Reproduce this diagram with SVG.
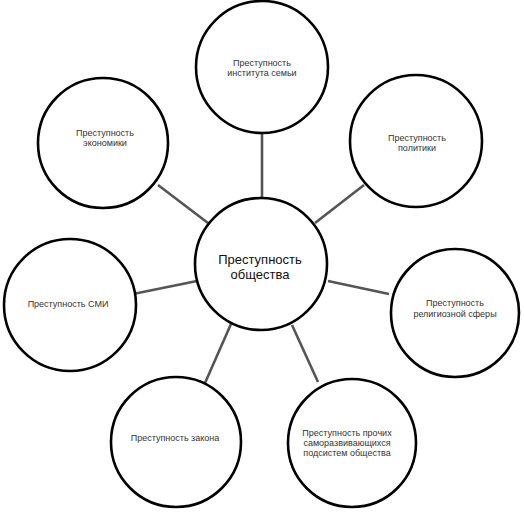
<svg xmlns="http://www.w3.org/2000/svg" width="524" height="512" viewBox="0 0 524 512">
<style>
.n circle{fill:#fff;stroke:#000;stroke-width:2.6}
.n text{font-family:"Liberation Sans",Arial,sans-serif;font-size:9px;fill:#333;text-anchor:middle}
.n text.big{font-size:13px;fill:#111}
#connectors line{stroke:#555;stroke-width:2.6}
</style>
<rect width="524" height="512" fill="#fff"/>
<g id="connectors">
<line x1="262" y1="133" x2="262" y2="198"/>
<line x1="158" y1="185" x2="208" y2="223"/>
<line x1="315" y1="223" x2="364" y2="185"/>
<line x1="133" y1="294" x2="197" y2="281"/>
<line x1="328" y1="281" x2="389" y2="294"/>
<line x1="205" y1="383" x2="231" y2="324"/>
<line x1="292" y1="325" x2="318" y2="382"/>
</g>
<g id="center" class="n"><circle cx="261" cy="264" r="66"/><text class="big" x="260" y="264">Преступность</text><text class="big" x="260" y="279">общества</text></g>
<g id="family" class="n"><circle cx="262" cy="67" r="66"/><text x="262" y="66">Преступность</text><text x="262" y="76">института семьи</text></g>
<g id="economy" class="n"><circle cx="103" cy="143" r="65"/><text x="105" y="136">Преступность</text><text x="105" y="146">экономики</text></g>
<g id="politics" class="n"><circle cx="416" cy="141" r="66"/><text x="417" y="141">Преступность</text><text x="417" y="151">политики</text></g>
<g id="smi" class="n"><circle cx="70" cy="305" r="66"/><text x="68" y="307">Преступность СМИ</text></g>
<g id="religion" class="n"><circle cx="455" cy="313" r="64"/><text x="455" y="306">Преступность</text><text x="455" y="317">религиозной сферы</text></g>
<g id="law" class="n"><circle cx="176" cy="442" r="65"/><text x="175" y="441">Преступность закона</text></g>
<g id="other" class="n"><circle cx="352" cy="443" r="64"/><text x="347" y="436">Преступность прочих</text><text x="347" y="446">саморазвивающихся</text><text x="347" y="456">подсистем общества</text></g>
</svg>
